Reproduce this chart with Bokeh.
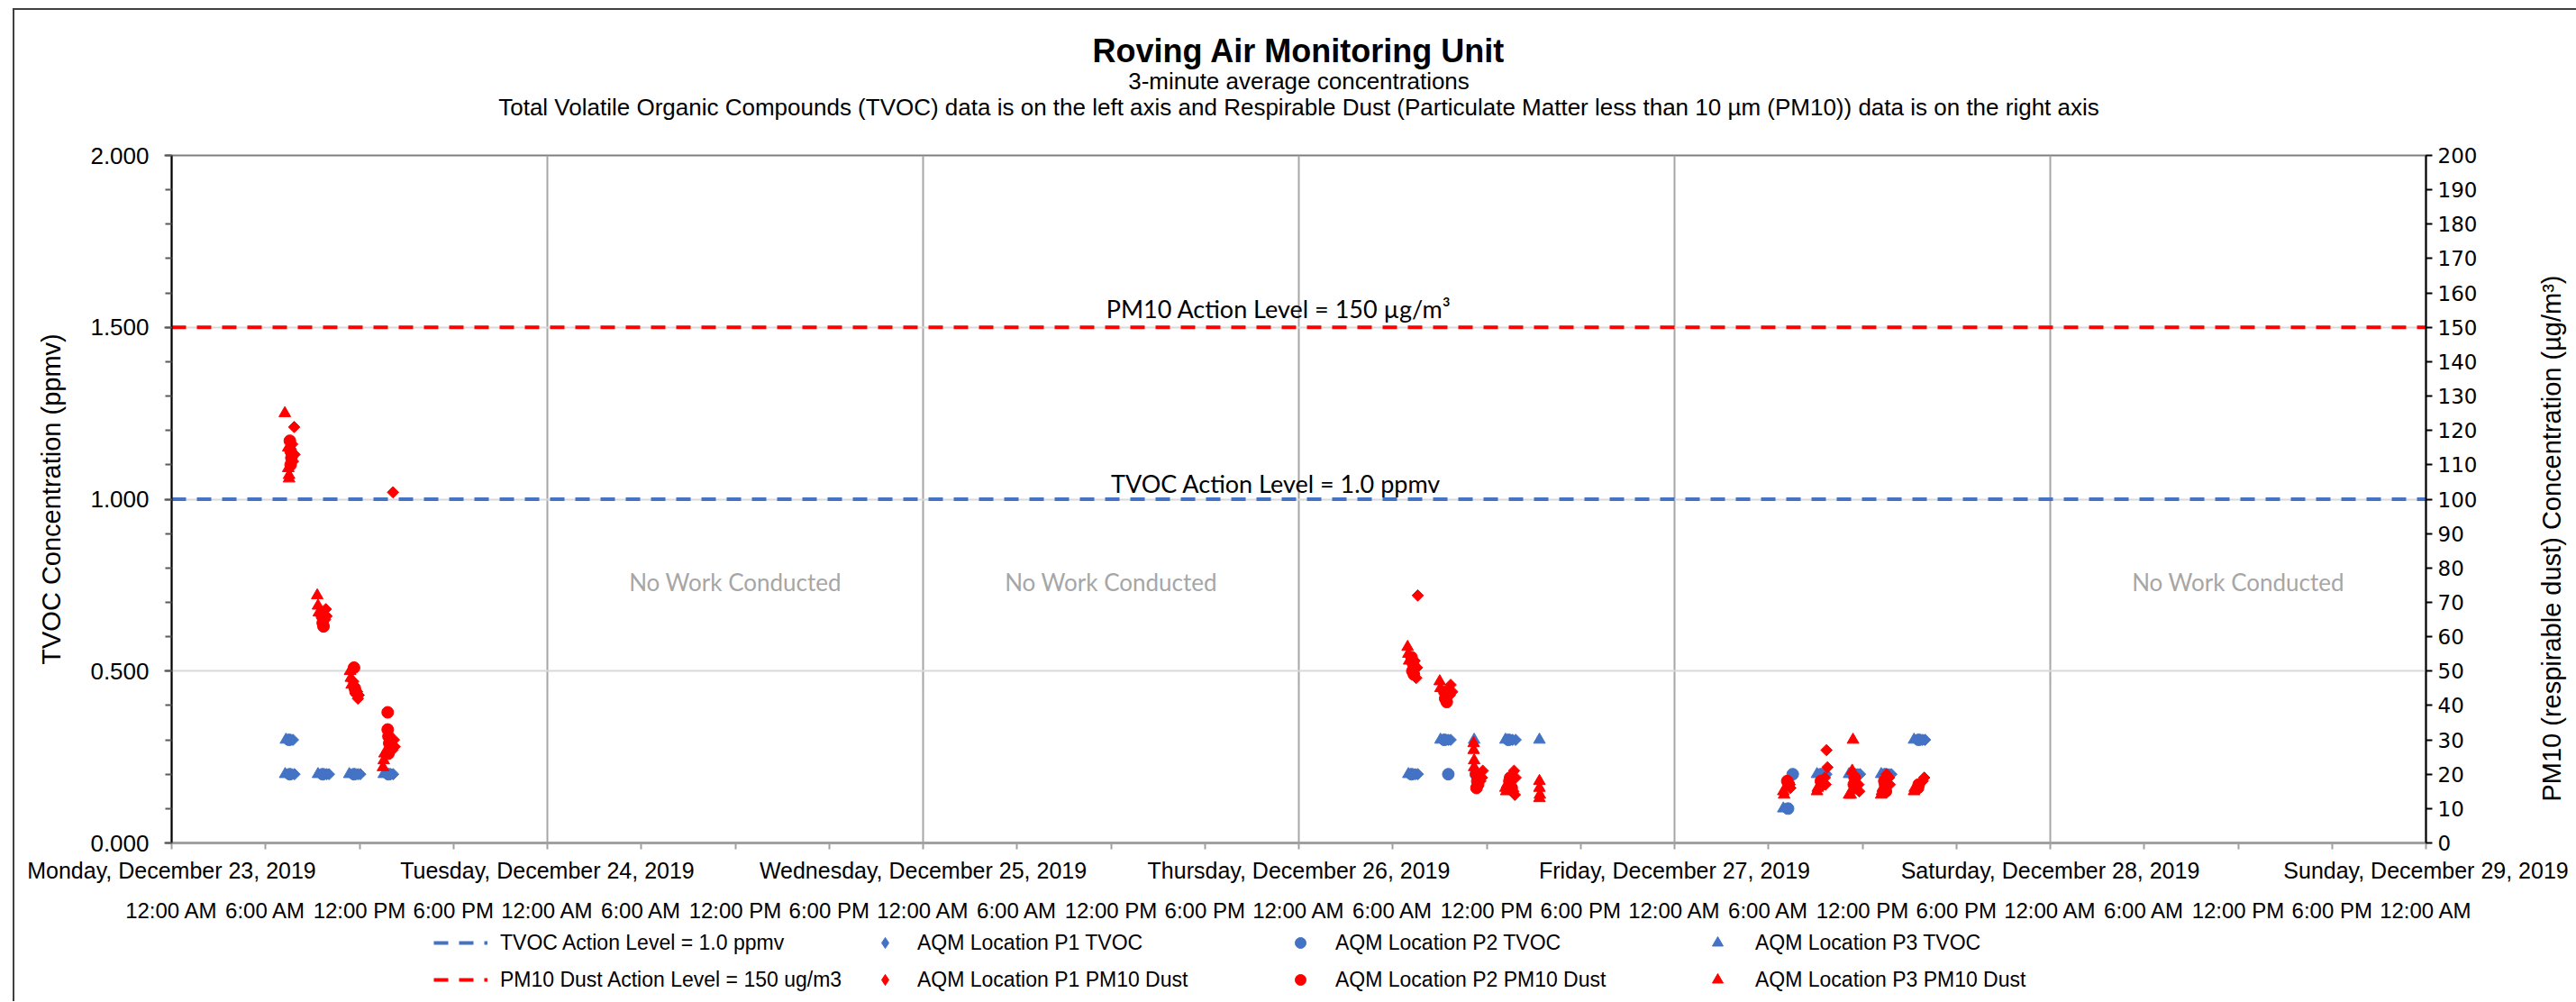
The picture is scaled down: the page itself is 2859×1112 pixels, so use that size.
import math
from bokeh.plotting import figure
from bokeh.layouts import column, row
from bokeh.models import (Range1d, LinearAxis, FixedTicker, Label, Legend, LegendItem,
                          PrintfTickFormatter)
from bokeh.embed import file_html
from bokeh.resources import INLINE

# ---------------- data ----------------
DAY_LABELS = ["Monday, December 23, 2019", "Tuesday, December 24, 2019",
              "Wednesday, December 25, 2019", "Thursday, December 26, 2019",
              "Friday, December 27, 2019", "Saturday, December 28, 2019",
              "Sunday, December 29, 2019"]
TIME_LABELS = ["12:00 AM", "6:00 AM", "12:00 PM", "6:00 PM"]
NO_WORK_DAYS = [1, 2, 5]          # Tuesday, Wednesday, Saturday
TVOC_ACTION = 1.0                 # ppmv
PM10_ACTION = 150                 # ug/m3

# times are hours after Monday, December 23, 2019 12:00 AM
p1_tvoc_h = [7.75, 7.85, 9.9, 10.05, 11.9, 12.05, 14.0, 14.15, 79.45, 79.6, 81.55, 81.7,
             85.65, 85.85, 105.55, 105.7, 107.7, 107.85, 109.7, 109.85, 111.85, 112.0]
p1_tvoc = [0.3, 0.2, 0.2, 0.2, 0.2, 0.2, 0.2, 0.2, 0.2, 0.2, 0.3, 0.3,
           0.3, 0.3, 0.2, 0.2, 0.2, 0.2, 0.2, 0.2, 0.3, 0.3]
p2_tvoc_h = [7.5, 7.55, 9.65, 11.65, 13.85, 79.2, 81.3, 81.55, 83.3, 85.4,
             103.25, 103.55, 105.35, 107.45, 109.45, 111.6]
p2_tvoc = [0.3, 0.2, 0.2, 0.2, 0.2, 0.2, 0.3, 0.2, 0.2, 0.3,
           0.1, 0.2, 0.2, 0.2, 0.2, 0.3]
p3_tvoc_h = [7.3, 7.25, 9.35, 11.35, 13.55, 79.0, 81.05, 83.2, 85.2, 87.37,
             102.95, 105.1, 107.15, 109.2, 111.3]
p3_tvoc = [0.3, 0.2, 0.2, 0.2, 0.2, 0.2, 0.3, 0.3, 0.3, 0.3,
           0.1, 0.2, 0.2, 0.2, 0.3]

p1_pm_h = [7.83, 7.85, 7.75, 7.7, 14.14, 9.85, 9.9, 9.8, 11.6, 11.85, 11.95, 11.9,
           14.2, 14.25, 14.1, 79.6, 79.4, 79.55, 79.5, 81.7, 81.8, 81.65,
           83.75, 83.7, 83.6, 85.75, 85.85, 85.8, 85.7, 103.4, 103.35,
           105.71, 105.77, 105.6, 105.65, 107.8, 107.75, 109.55, 109.7, 109.75,
           111.95, 111.85]
p1_pm = [121, 113, 111, 116, 102, 68, 66, 65, 47, 44, 43, 42,
         30, 28, 27, 72, 53, 51, 48, 46, 44, 43,
         21, 19, 18, 21, 19, 14, 15, 16, 17,
         27, 22, 19, 17, 15, 17, 20, 19, 17,
         19, 18]
p2_pm_h = [7.55, 7.6, 7.65, 7.6, 9.6, 9.65, 9.7, 11.65, 11.7, 11.75,
           13.8, 13.8, 13.85, 13.9, 13.85, 79.2, 79.3, 79.25, 79.35, 81.3, 81.35, 81.45,
           83.35, 83.4, 83.45, 83.35, 85.5, 85.45, 85.6, 103.2, 103.3, 105.35, 105.4,
           107.5, 107.45, 107.55, 109.45, 109.4, 109.5, 111.6, 111.55]
p2_pm = [117, 114, 112, 110, 66, 64, 63, 51, 45, 44,
         38, 33, 31, 29, 26, 54, 52, 50, 49, 44, 42, 41,
         20, 18, 17, 16, 19, 18, 16, 18, 17, 18, 17,
         19, 17, 16, 17, 18, 15, 17, 16]
p3_pm_h = [7.23, 7.45, 7.45, 7.5, 7.5, 9.3, 9.35, 9.4, 11.4, 11.45, 11.5,
           13.6, 13.55, 13.5, 78.95, 79.0, 79.05, 81.0, 81.05,
           83.17, 83.17, 83.2, 83.2, 85.2, 85.25, 85.3, 87.37, 87.37, 87.4, 87.37,
           102.95, 103.0, 105.1, 105.15, 107.4, 107.35, 107.15, 107.25,
           109.2, 109.25, 109.3, 111.3, 111.35]
p3_pm = [125, 115, 109, 107, 106, 72, 69, 67, 50, 48, 46,
         26, 24, 22, 57, 55, 53, 47, 45,
         29, 27, 24, 22, 16, 15, 17, 18, 16, 14, 13,
         15, 14, 15, 16, 30, 21, 14, 14,
         14, 15, 16, 15, 16]

TITLE = "Roving Air Monitoring Unit"
SUBTITLE_1 = "3-minute average concentrations"
SUBTITLE_2 = ("Total Volatile Organic Compounds (TVOC) data is on the left axis and Respirable Dust "
              "(Particulate Matter less than 10 µm (PM10)) data is on the right axis")
RIGHT_AXIS_TITLE = "PM10 (respirable dust) Concentration (µg/m³)"

# ---------------- styling ----------------
BLUE = "#4472C4"
RED = "#FF0000"
ARIAL = "Liberation Sans"
CALIBRI = "Lato"
W = 2843                 # width of the main column
W_RIGHT = 50             # transparent strip (overlaid on the right edge) holding the right axis title
FRAME_CX = 1251          # horizontal centre of the plot area, px from the plot area's left edge

H_END = (len(DAY_LABELS) - 1) * 24
hour_ticks = list(range(0, H_END + 1, 6))


def blank_fig(width, height):
    f = figure(width=width, height=height, x_range=Range1d(0, 1), y_range=Range1d(0, 1),
               x_axis_type=None, y_axis_type=None, output_backend="svg",
               toolbar_location=None, min_border=0)
    f.title.visible = False
    f.outline_line_color = None
    f.background_fill_color = "white"
    f.border_fill_color = "white"
    return f


# ---------------- header (titles) ----------------
head = blank_fig(W, 141)
head.add_layout(Label(x=FRAME_CX, y=96, x_units="screen", y_units="screen", text=TITLE,
                      text_align="center", text_baseline="alphabetic", text_font=ARIAL,
                      text_font_size="36px", text_font_style="bold", text_color="black"))
head.add_layout(Label(x=FRAME_CX, y=63, x_units="screen", y_units="screen", text=SUBTITLE_1,
                      text_align="center", text_baseline="alphabetic", text_font=ARIAL,
                      text_font_size="26px", text_color="black"))
head.add_layout(Label(x=FRAME_CX, y=34, x_units="screen", y_units="screen", text=SUBTITLE_2,
                      text_align="center", text_baseline="alphabetic", text_font=ARIAL,
                      text_font_size="26px", text_color="black"))

# ---------------- main chart ----------------
p = figure(width=W, height=877, x_range=Range1d(0, H_END), y_range=Range1d(0, 2),
           output_backend="svg", toolbar_location=None,
           min_border_left=174, min_border_right=167, min_border_top=20, min_border_bottom=94)
p.title.visible = False
p.extra_y_ranges = {"pm": Range1d(0, 200)}
p.background_fill_color = "white"
p.border_fill_color = "white"
p.outline_line_color = "#7f7f7f"
p.outline_line_width = 2

# grids
p.xgrid.ticker = FixedTicker(ticks=[d * 24 for d in range(1, len(DAY_LABELS) - 1)])
p.xgrid.grid_line_color = "#a6a6a6"
p.xgrid.grid_line_width = 2
p.ygrid.ticker = FixedTicker(ticks=[0.5, 1.0, 1.5])
p.ygrid.grid_line_color = "#d9d9d9"
p.ygrid.grid_line_width = 2

# left axis
ya = p.yaxis[0]
ya.ticker = FixedTicker(ticks=[0, 0.5, 1.0, 1.5, 2.0], minor_ticks=[i / 10 for i in range(21)])
ya.formatter = PrintfTickFormatter(format="%.3f")
ya.axis_line_color = "black"
ya.axis_line_width = 2
ya.major_tick_line_color = "#595959"
ya.major_tick_line_width = 2
ya.minor_tick_line_color = "#595959"
ya.minor_tick_line_width = 2
ya.major_tick_in = 0
ya.major_tick_out = 8
ya.minor_tick_in = 0
ya.minor_tick_out = 7
ya.major_label_standoff = 17
ya.major_label_text_font = ARIAL
ya.major_label_text_font_size = "26px"
ya.major_label_text_color = "black"
ya.axis_label = "TVOC Concentration (ppmv)"
ya.axis_label_text_font = ARIAL
ya.axis_label_text_font_size = "29px"
ya.axis_label_text_font_style = "normal"
ya.axis_label_text_color = "black"
ya.axis_label_standoff = 24

# right axis
ra = LinearAxis(y_range_name="pm", ticker=FixedTicker(ticks=list(range(0, 201, 10))))
ra.axis_line_color = "black"
ra.axis_line_width = 2
ra.major_tick_line_color = "black"
ra.major_tick_line_width = 2
ra.major_tick_in = 0
ra.major_tick_out = 7
ra.minor_tick_line_color = None
ra.major_label_standoff = 6
ra.major_label_text_font = "DejaVu Sans"
ra.major_label_text_font_size = "23px"
ra.major_label_text_color = "black"
p.add_layout(ra, "right")

# bottom axis: ticks + day labels
xa = p.xaxis[0]
xa.ticker = FixedTicker(ticks=hour_ticks)
xa.major_label_overrides = {h: (DAY_LABELS[h // 24] if h % 24 == 0 else "") for h in hour_ticks}
xa.axis_line_color = "#a0a0a0"
xa.axis_line_width = 3
xa.major_tick_line_color = "#a0a0a0"
xa.major_tick_line_width = 2
xa.major_tick_in = 0
xa.major_tick_out = 7
xa.minor_tick_line_color = None
xa.major_label_standoff = 9
xa.major_label_text_font = ARIAL
xa.major_label_text_font_size = "25px"
xa.major_label_text_color = "black"

# second bottom axis: time-of-day labels
xb = LinearAxis(ticker=FixedTicker(ticks=hour_ticks))
xb.major_label_overrides = {h: TIME_LABELS[(h // 6) % 4] for h in hour_ticks}
xb.axis_line_color = None
xb.major_tick_line_color = None
xb.minor_tick_line_color = None
xb.major_tick_in = 0
xb.major_tick_out = 0
xb.major_label_standoff = 14
xb.major_label_text_font = ARIAL
xb.major_label_text_font_size = "24px"
xb.major_label_text_color = "black"
p.add_layout(xb, "below")

# action levels
line_x = [0, H_END]
LINE_TVOC = dict(line_color=BLUE, line_width=4, line_dash="16 12")
LINE_PM = dict(line_color=RED, line_width=4, line_dash="16 12")
p.line(line_x, [TVOC_ACTION, TVOC_ACTION], **LINE_TVOC)
p.line(line_x, [PM10_ACTION, PM10_ACTION], y_range_name="pm", **LINE_PM)

# scatter series
DIAMOND = dict(marker="square", angle=math.pi / 4, size=9)
CIRCLE = dict(marker="circle", size=13)
TRI = dict(marker="triangle", size=13)

p.scatter(p1_tvoc_h, p1_tvoc, color=BLUE, **DIAMOND)
p.scatter(p2_tvoc_h, p2_tvoc, color=BLUE, **CIRCLE)
p.scatter(p3_tvoc_h, p3_tvoc, color=BLUE, **TRI)
p.scatter(p1_pm_h, p1_pm, color=RED, y_range_name="pm", **DIAMOND)
p.scatter(p2_pm_h, p2_pm, color=RED, y_range_name="pm", **CIRCLE)
p.scatter(p3_pm_h, p3_pm, color=RED, y_range_name="pm", **TRI)

# annotations inside plot
for d in NO_WORK_DAYS:
    p.add_layout(Label(x=d * 24 + 12, y=0.76, text="No Work Conducted", text_align="center",
                       text_baseline="middle", text_font=CALIBRI, text_font_size="26px",
                       text_color="#a6a6a6"))
p.add_layout(Label(x=59.7, y=PM10_ACTION + 5.5, y_range_name="pm",
                   text="PM10 Action Level = 150 µg/m³", text_align="left",
                   text_baseline="alphabetic", text_font=CALIBRI, text_font_size="27px",
                   text_color="black"))
p.add_layout(Label(x=60.0, y=TVOC_ACTION + 0.045,
                   text="TVOC Action Level = 1.0 ppmv", text_align="left",
                   text_baseline="alphabetic", text_font=CALIBRI, text_font_size="27px",
                   text_color="black"))

# ---------------- legend strip ----------------
leg = blank_fig(W, 82)
# legend keys: a single empty (NaN) point each, they only supply the legend symbols
NA = [math.nan]
k_tvoc = leg.line(NA, NA, **LINE_TVOC)
k_pm = leg.line(NA, NA, **LINE_PM)
KEY_DIAMOND = dict(marker="diamond")
k_p1t = leg.scatter(NA, NA, color=BLUE, **KEY_DIAMOND)
k_p2t = leg.scatter(NA, NA, color=BLUE, **CIRCLE)
k_p3t = leg.scatter(NA, NA, color=BLUE, **TRI)
k_p1p = leg.scatter(NA, NA, color=RED, **KEY_DIAMOND)
k_p2p = leg.scatter(NA, NA, color=RED, **CIRCLE)
k_p3p = leg.scatter(NA, NA, color=RED, **TRI)


def add_legend(items, vx, gw, standoff):
    lg = Legend(items=[LegendItem(label=t, renderers=[r]) for t, r in items],
                location=(vx, 9), orientation="vertical",
                glyph_width=gw, glyph_height=30, label_height=30, spacing=11,
                label_standoff=standoff, padding=0, margin=0,
                label_text_font=ARIAL, label_text_font_size="23px", label_text_color="black",
                border_line_color=None, background_fill_alpha=0)
    leg.add_layout(lg, "center")


add_legend([("TVOC Action Level = 1.0 ppmv", k_tvoc),
            ("PM10 Dust Action Level = 150 ug/m3", k_pm)], 291, 60, 14)
add_legend([("AQM Location P1 TVOC", k_p1t),
            ("AQM Location P1 PM10 Dust", k_p1p)], 776, 32, 20)
add_legend([("AQM Location P2 TVOC", k_p2t),
            ("AQM Location P2 PM10 Dust", k_p2p)], 1237, 32, 23)
add_legend([("AQM Location P3 TVOC", k_p3t),
            ("AQM Location P3 PM10 Dust", k_p3p)], 1700, 32, 26)

# ---------------- right-hand axis title strip (transparent, overlaid) ----------------
rt = blank_fig(W_RIGHT, 1100)
rt.background_fill_color = None
rt.border_fill_color = None
rt.min_border_top = 161      # same plot-area top and bottom as the main chart
rt.min_border_bottom = 176
rt.margin = (0, 0, 0, -W_RIGHT)
rt.add_layout(Label(x=22, y=338, x_units="screen", y_units="screen", text=RIGHT_AXIS_TITLE,
                    angle=math.pi / 2, text_align="center", text_baseline="middle",
                    text_font=ARIAL, text_font_size="29px", text_color="black"))

layout = row(column(head, p, leg, spacing=0), rt, spacing=0,
             styles={"border-left": "2px solid #404040", "border-top": "2px solid #404040",
                     "margin-left": "14px", "margin-top": "9px"})

open("out.html", "w").write(file_html(layout, INLINE))
